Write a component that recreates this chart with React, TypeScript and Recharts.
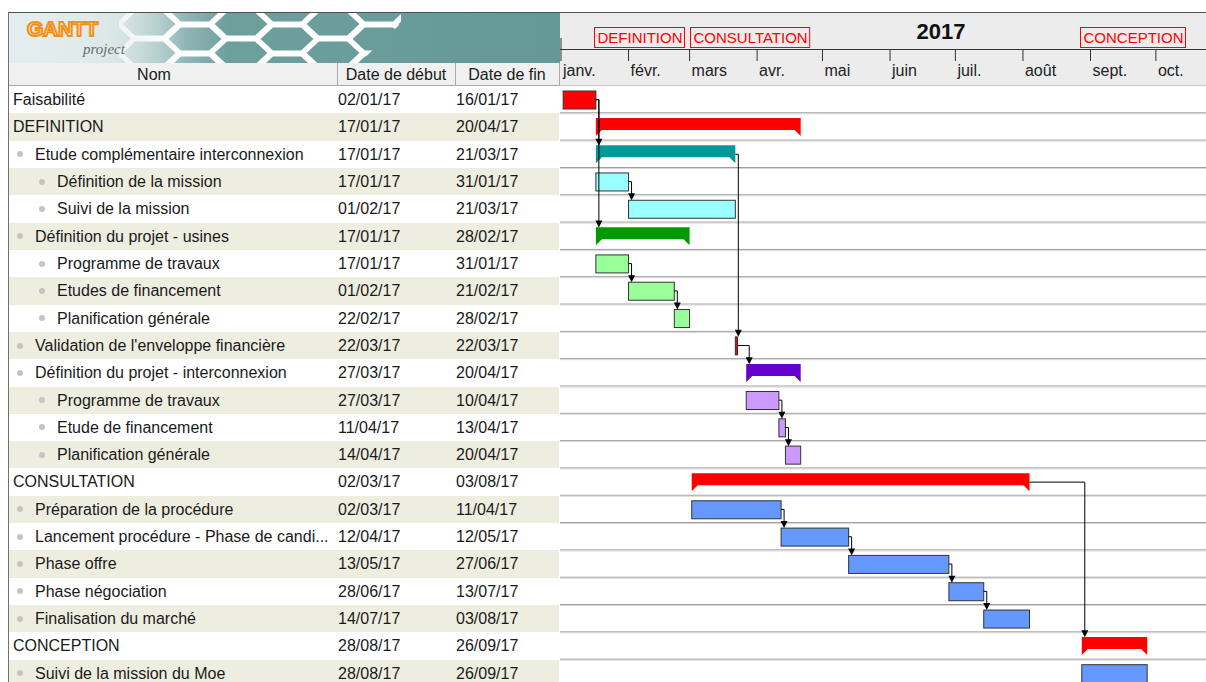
import React from 'react';
import { BarChart, Bar, XAxis, YAxis } from 'recharts';

// ---- data ----
const taskNames = [
  'Faisabilité',
  'DEFINITION',
  'Etude complémentaire interconnexion',
  'Définition de la mission',
  'Suivi de la mission',
  'Définition du projet - usines',
  'Programme de travaux',
  'Etudes de financement',
  'Planification générale',
  "Validation de l'enveloppe financière",
  'Définition du projet - interconnexion',
  'Programme de travaux',
  'Etude de financement',
  'Planification générale',
  'CONSULTATION',
  'Préparation de la procédure',
  'Lancement procédure - Phase de candi...',
  'Phase offre',
  'Phase négociation',
  'Finalisation du marché',
  'CONCEPTION',
  'Suivi de la mission du Moe',
];
const taskLevels = [0, 0, 1, 2, 2, 1, 2, 2, 2, 1, 1, 2, 2, 2, 0, 1, 1, 1, 1, 1, 0, 1];
const startDates = [
  '02/01/17', '17/01/17', '17/01/17', '17/01/17', '01/02/17', '17/01/17', '17/01/17', '01/02/17',
  '22/02/17', '22/03/17', '27/03/17', '27/03/17', '11/04/17', '14/04/17', '02/03/17', '02/03/17',
  '12/04/17', '13/05/17', '28/06/17', '14/07/17', '28/08/17', '28/08/17',
];
const endDates = [
  '16/01/17', '20/04/17', '21/03/17', '31/01/17', '21/03/17', '28/02/17', '31/01/17', '21/02/17',
  '28/02/17', '22/03/17', '20/04/17', '10/04/17', '13/04/17', '20/04/17', '03/08/17', '11/04/17',
  '12/05/17', '27/06/17', '13/07/17', '03/08/17', '26/09/17', '26/09/17',
];
const summaryRows = [1, 2, 5, 10, 14, 20];
// [predecessor, successor] finish-to-start links
const dependencies: [number, number][] = [
  [0, 2], [0, 5], [3, 4], [6, 7], [7, 8], [2, 9], [9, 10], [11, 12], [12, 13],
  [14, 20], [15, 16], [16, 17], [17, 18], [18, 19],
];
const headerLabelRows = [1, 14, 20];
const monthLabels = ['janv.', 'févr.', 'mars', 'avr.', 'mai', 'juin', 'juil.', 'août', 'sept.', 'oct.'];
const monthStarts = [
  '01/01/17', '01/02/17', '01/03/17', '01/04/17', '01/05/17',
  '01/06/17', '01/07/17', '01/08/17', '01/09/17', '01/10/17',
];
const yearLabel = '2017';
const columnTitles = ['Nom', 'Date de début', 'Date de fin'];

const barColors = [
  '#ff0000', '#ff0000', '#009999', '#99ffff', '#99ffff', '#009900', '#99ff99', '#99ff99',
  '#99ff99', '#ff0000', '#6600cc', '#cc99ff', '#cc99ff', '#cc99ff', '#ff0000', '#6699ff',
  '#6699ff', '#6699ff', '#6699ff', '#6699ff', '#ff0000', '#6699ff',
];

const dayOf = (s: string) => {
  const [d, m, y] = s.split('/').map(Number);
  return (Date.UTC(2000 + y, m - 1, d) - Date.UTC(2017, 0, 1)) / 86400000;
};

const rows = taskNames.map((name, i) => ({
  id: i,
  name,
  span: [dayOf(startDates[i]), dayOf(endDates[i]) + 1],
  summary: summaryRows.includes(i),
}));
const monthDays = monthStarts.map(dayOf);
const labelDays = headerLabelRows.map((i) => rows[i].span[0]);

const FONT = '"Liberation Sans", Arial, sans-serif';
const TOP = 12;
const AXIS_H = 37;
const PLOT_H = 601;
const ROW_H = PLOT_H / rows.length;
const ROW_TOP = TOP + AXIS_H * 2;
const DAYS = 296;

const measure = (text: string, font: string) => {
  const ctx = document.createElement('canvas').getContext('2d');
  if (!ctx) return text.length * 8;
  ctx.font = font;
  return ctx.measureText(text).width;
};

const TaskShape = (props: any) => {
  const { x, y, width } = props;
  const row = rows[props.payload?.id ?? props.index];
  const [s, e] = row.span;
  const ppd = width / (e - s);
  const color = barColors[row.id];
  const top = y + 5;

  const links = dependencies
    .filter(([, q]) => q === row.id)
    .map(([p]) => {
      const xe = x + (rows[p].span[1] - s) * ppd;
      const ym = y - (row.id - p) * ROW_H + ROW_H / 2;
      const xa = x + 3;
      return (
        <g key={p}>
          <path d={`M${xe},${ym}H${xa}V${top - 6}`} fill="none" stroke="#000" strokeWidth={1} />
          <path d={`M${xa - 3.5},${top - 7}H${xa + 3.5}L${xa},${top}Z`} fill="#000" />
        </g>
      );
    });

  let bar;
  if (row.summary) {
    const t = y + 4.7;
    const b = t + 12;
    const tip = t + 18;
    bar = (
      <polygon
        points={`${x},${t} ${x + width},${t} ${x + width},${tip} ${x + width - 6},${b} ${x + 6},${b} ${x},${tip}`}
        fill={color}
      />
    );
  } else {
    bar = <rect x={x} y={top} width={width} height={18} fill={color} stroke="#333" strokeWidth={1} />;
  }
  return (
    <g>
      {bar}
      {links}
    </g>
  );
};

const RowLine = (p: any) => (
  <g>
    <line x1={p.x - 1} x2={p.x + p.width} y1={p.y + ROW_H - 0.5} y2={p.y + ROW_H - 0.5} stroke="#9a9a9a" />
    <line x1={p.x - 1} x2={p.x + p.width} y1={p.y + ROW_H + 0.5} y2={p.y + ROW_H + 0.5} stroke="#d6d6d6" />
  </g>
);

const MonthTick = (p: any) => {
  const i = monthDays.indexOf(p.payload.value);
  return (
    <g>
      <line x1={p.x} x2={p.x} y1={i === 0 ? 26 : 37} y2={49} stroke="#333" />
      <text x={p.x + 2} y={64} fontSize={16} fontFamily={FONT} fill="#222">
        {monthLabels[i]}
      </text>
    </g>
  );
};

const LabelTick = (p: any) => {
  const i = labelDays.indexOf(p.payload.value);
  const text = taskNames[headerLabelRows[i]];
  const w = measure(text, `15px ${FONT}`);
  const x0 = Math.round(p.x) - 1.5;
  return (
    <g>
      <rect x={x0} y={15.5} width={w + 5} height={20} fill="none" stroke="#ff0000" />
      <text x={x0 + 3} y={31} fontSize={15} fontFamily={FONT} fill="#ff0000">
        {text}
      </text>
    </g>
  );
};

const Banner = () => {
  const a = 30;
  const h = 14;
  const centers: [number, number][] = [];
  for (let k = 0; k < 7; k++) {
    const cx = 140 + k * 46;
    for (let r = -1; r < 3; r++) centers.push([cx, r * 29 + (k % 2 ? 26 : 11)]);
  }
  return (
    <svg width={551} height={50} style={{ position: 'absolute', left: 9, top: 13 }}>
      <defs>
        <linearGradient id="bn" x1="0" x2="1" y1="0" y2="0">
          <stop offset="0" stopColor="#e4eded" />
          <stop offset="0.2" stopColor="#c6d9d9" />
          <stop offset="0.4" stopColor="#6d9f9d" />
          <stop offset="1" stopColor="#649997" />
        </linearGradient>
        <linearGradient id="fade" x1="0" x2="1" y1="0" y2="0">
          <stop offset="0" stopColor="#e4eded" stopOpacity={1} />
          <stop offset="0.18" stopColor="#e4eded" stopOpacity={0.7} />
          <stop offset="0.32" stopColor="#e4eded" stopOpacity={0} />
        </linearGradient>
        <clipPath id="hexclip">
          <polygon points="110,0 392,0 392,10 350,50 110,50" />
        </clipPath>
      </defs>
      <rect width={551} height={50} fill="url(#bn)" />
      <g clipPath="url(#hexclip)" stroke="#fff" strokeWidth={5} fill="none" strokeLinejoin="round">
        {centers.map(([cx, cy], i) => (
          <path
            key={i}
            d={`M${cx - a},${cy}L${cx - a / 2},${cy - h}L${cx + a / 2},${cy - h}L${cx + a},${cy}L${cx + a / 2},${cy + h}L${cx - a / 2},${cy + h}Z`}
          />
        ))}
      </g>
      <rect width={551} height={50} fill="url(#fade)" />
      <text
        x={18}
        y={23}
        fontSize={21}
        fontWeight="bold"
        fontFamily={FONT}
        fill="#fff3df"
        stroke="#f39018"
        strokeWidth={2}
        letterSpacing={-0.3}
      >
        GANTT
      </text>
      <text x={74} y={41} fontSize={15} fontStyle="italic" fontFamily='"Liberation Serif", serif' fill="#6b6b6b">
        project
      </text>
    </svg>
  );
};

const App = () => {
  return (
    <div
      style={{
        position: 'absolute',
        left: 0,
        top: 0,
        width: 1206,
        height: 682,
        overflow: 'hidden',
        background: '#fff',
        fontFamily: FONT,
        color: '#1a1a1a',
      }}
    >
      {/* frame */}
      <div style={{ position: 'absolute', left: 8, top: TOP, width: 1198, height: 1, background: '#505050' }} />
      <div style={{ position: 'absolute', left: 8, top: TOP, width: 1, height: 670, background: '#707070' }} />

      <Banner />

      {/* table header */}
      <div
        style={{
          position: 'absolute',
          left: 9,
          top: 63,
          width: 550,
          height: 23,
          background: '#f0f0f0',
          borderBottom: '1px solid #a8a8a8',
          boxSizing: 'border-box',
        }}
      />
      {[337, 455, 559].map((x) => (
        <div key={x} style={{ position: 'absolute', left: x, top: 63, width: 1, height: 23, background: '#aaaaaa' }} />
      ))}
      {[
        [9, 290],
        [337, 118],
        [455, 104],
      ].map(([x, w], i) => (
        <div
          key={i}
          style={{
            position: 'absolute',
            left: x,
            top: 63,
            width: w,
            height: 23,
            lineHeight: '23px',
            textAlign: 'center',
            fontSize: 16,
          }}
        >
          {columnTitles[i]}
        </div>
      ))}

      {/* table rows */}
      {rows.map((r, i) => {
        const lvl = taskLevels[i];
        const textX = lvl === 0 ? 13 : lvl === 1 ? 35 : 57;
        return (
          <div
            key={i}
            style={{
              position: 'absolute',
              left: 9,
              top: ROW_TOP + i * ROW_H,
              width: 550,
              height: ROW_H,
              background: i % 2 ? '#eeeee0' : '#ffffff',
              fontSize: 16,
              lineHeight: `${ROW_H}px`,
              whiteSpace: 'nowrap',
            }}
          >
            {lvl > 0 && (
              <div
                style={{
                  position: 'absolute',
                  left: (lvl === 1 ? 20 : 42) - 9 - 3,
                  top: ROW_H / 2 - 3,
                  width: 6,
                  height: 6,
                  borderRadius: 3,
                  background: '#c4c4c4',
                }}
              />
            )}
            <span style={{ position: 'absolute', left: textX - 9 }}>{r.name}</span>
            <span style={{ position: 'absolute', left: 337 - 9 + 1 }}>{startDates[i]}</span>
            <span style={{ position: 'absolute', left: 455 - 9 + 1 }}>{endDates[i]}</span>
          </div>
        );
      })}

      {/* timeline header */}
      <div style={{ position: 'absolute', left: 560, top: TOP + 1, width: 646, height: 73, background: '#ececec' }} />
      <div style={{ position: 'absolute', left: 560, top: 49, width: 646, height: 1, background: '#333' }} />
      <div style={{ position: 'absolute', left: 560, top: 85, width: 646, height: 1, background: '#c8c8c8' }} />
      <div
        style={{
          position: 'absolute',
          left: 891,
          top: 19,
          width: 100,
          textAlign: 'center',
          fontSize: 22,
          fontWeight: 'bold',
          color: '#111',
        }}
      >
        {yearLabel}
      </div>

      <div style={{ position: 'absolute', left: 560, top: TOP }}>
        <BarChart
          width={646}
          height={AXIS_H * 2 + PLOT_H}
          layout="vertical"
          data={rows}
          margin={{ top: 0, right: 0, bottom: 0, left: 1 }}
          barCategoryGap={0}
        >
          <XAxis
            type="number"
            orientation="top"
            domain={[0, DAYS]}
            allowDataOverflow
            ticks={monthDays}
            interval={0}
            height={AXIS_H}
            axisLine={false}
            tickLine={false}
            tick={<MonthTick />}
          />
          <XAxis
            xAxisId="lbl"
            type="number"
            orientation="top"
            domain={[0, DAYS]}
            allowDataOverflow
            ticks={labelDays}
            interval={0}
            height={AXIS_H}
            axisLine={false}
            tickLine={false}
            tick={<LabelTick />}
          />
          <YAxis type="category" dataKey="id" hide />
          <Bar
            dataKey="span"
            isAnimationActive={false}
            shape={(p: any) => <TaskShape {...p} />}
            background={(p: any) => <RowLine {...p} />}
          />
        </BarChart>
      </div>
    </div>
  );
};

export default App;
